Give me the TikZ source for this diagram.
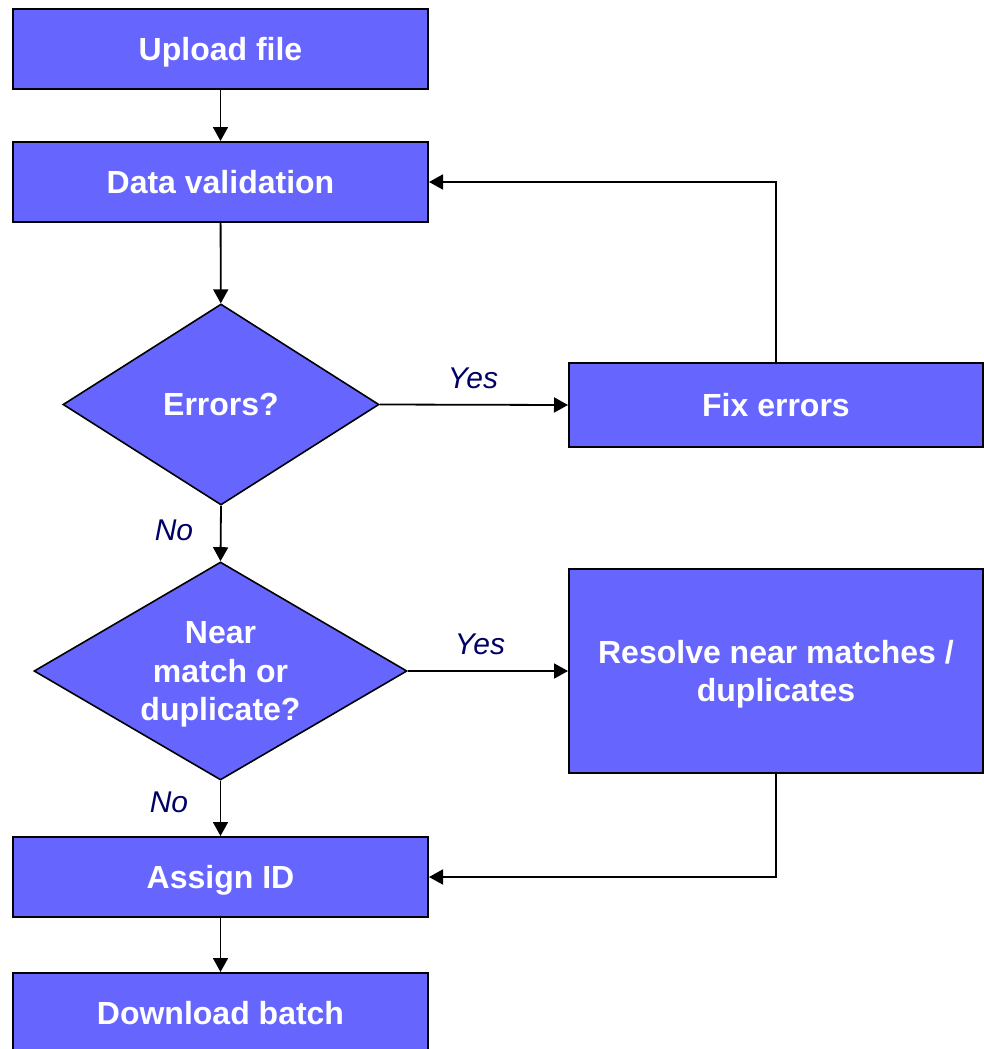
\documentclass[tikz,border=0pt]{standalone}
\usepackage{fontspec}
\setmainfont{Liberation Sans}
\usetikzlibrary{shapes.geometric,arrows.meta}
\definecolor{boxfill}{RGB}{102,102,255}
\definecolor{lblcol}{RGB}{0,0,102}
\begin{document}
\begin{tikzpicture}[x=1pt,y=-1pt,
  proc/.style={draw=black,line width=2pt,fill=boxfill,rectangle,inner sep=0pt,text depth=0pt,
     text=white,font=\fontsize{32}{38.5}\selectfont\bfseries,align=center},
  dec/.style={draw=black,line width=1.6pt,fill=boxfill,diamond,inner sep=0pt,text depth=0pt,
     text=white,font=\fontsize{32}{38.5}\selectfont\bfseries,align=center},
  conn/.style={draw=black,line width=1.8pt,-{Triangle[length=14pt,width=15pt]}},
  lbl/.style={text=lblcol,font=\fontsize{30}{36}\selectfont\itshape,inner sep=0pt}]
\useasboundingbox (0,0) rectangle (984,1049);
\node[proc,minimum width=415pt,minimum height=80pt] (up) at (220.5,49) {Upload file};
\node[proc,minimum width=415pt,minimum height=80pt] (dv) at (220.5,182) {Data validation};
\node[dec,minimum width=316pt,minimum height=201pt,shape aspect=1.57] (err) at (221,404.5) {Errors?};
\node[proc,minimum width=414pt,minimum height=84pt] (fix) at (776,405) {Fix errors};
\node[dec,minimum width=373pt,minimum height=218pt,shape aspect=1.71] (nm) at (220.5,671) {Near\\match or\\duplicate?};
\node[proc,minimum width=414pt,minimum height=204pt] (res) at (776,671) {Resolve near matches /\\duplicates};
\node[proc,minimum width=415pt,minimum height=80pt] (aid) at (220.5,877) {Assign ID};
\node[proc,minimum width=415pt,minimum height=80pt] (dl) at (220.5,1013) {Download batch};
\draw[conn] (up) -- (dv);
\draw[conn] (dv) -- (err);
\draw[conn] (err.east) -- (fix.west);
\draw[conn] (err.south) -- (nm.north);
\draw[conn] (nm.east) -- (res.west);
\draw[conn] (nm.south) -- (aid.north);
\draw[conn] (fix.north) |- (dv.east);
\draw[conn] (res.south) |- (aid.east);
\draw[conn] (aid) -- (dl);
\node[lbl] (y1) at (473,378) {Yes};
\node[lbl] (y2) at (480,644) {Yes};
\node[lbl] (n1) at (174,530) {No};
\node[lbl] (n2) at (169,802) {No};
\end{tikzpicture}
\end{document}
